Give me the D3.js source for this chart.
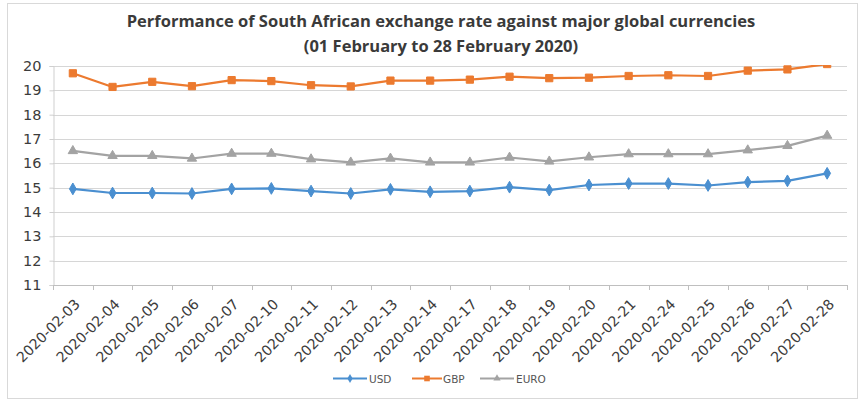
<!DOCTYPE html>
<html>
<head>
<meta charset="utf-8">
<script src="https://cdn.jsdelivr.net/npm/d3@7"></script>
<style>
  html, body { margin: 0; padding: 0; background: #fff; }
  svg { display: block; }
</style>
</head>
<body>
<svg id="chart" width="859" height="402"></svg>
<script>
const dates = ["2020-02-03","2020-02-04","2020-02-05","2020-02-06","2020-02-07","2020-02-10","2020-02-11","2020-02-12","2020-02-13","2020-02-14","2020-02-17","2020-02-18","2020-02-19","2020-02-20","2020-02-21","2020-02-24","2020-02-25","2020-02-26","2020-02-27","2020-02-28"];
const usd  = [14.95,14.78,14.78,14.76,14.95,14.97,14.86,14.76,14.93,14.83,14.86,15.02,14.90,15.11,15.17,15.17,15.09,15.23,15.28,15.59];
const gbp  = [19.70,19.14,19.35,19.17,19.42,19.38,19.21,19.16,19.40,19.40,19.44,19.56,19.50,19.52,19.59,19.62,19.59,19.81,19.86,20.08];
const euro = [16.51,16.31,16.31,16.20,16.40,16.40,16.17,16.04,16.20,16.04,16.04,16.24,16.08,16.25,16.38,16.38,16.38,16.54,16.72,17.14];
const yTicks = [11,12,13,14,15,16,17,18,19,20];
const titleLines = ["Performance of South African exchange rate against major global currencies", "(01 February to 28 February 2020)"];
const seriesNames = ["USD","GBP","EURO"];

const series = [
  {name: seriesNames[0], values: usd,  color: "#4a8fd0", symbol: d3.symbolDiamond, size: 40},
  {name: seriesNames[1], values: gbp,  color: "#ec7a2f", symbol: d3.symbolSquare,  size: 52},
  {name: seriesNames[2], values: euro, color: "#a3a3a3", symbol: d3.symbolTriangle, size: 38}
];

const svg = d3.select("#chart");
const L = 53, R = 847, T = 66, B = 285;

// frame
svg.append("rect").attr("x", 7.5).attr("y", 3.5).attr("width", 850).attr("height", 395)
  .attr("fill", "#fff").attr("stroke", "#d9d9d9").attr("stroke-width", 1);

const x = d3.scaleBand().domain(dates).range([L, R]);
const y = d3.scaleLinear().domain([11, 20]).range([B, T]);

// title
svg.append("g").selectAll("text").data(titleLines).join("text")
  .attr("x", 441).attr("y", (d, i) => 27 + i * 25)
  .attr("text-anchor", "middle")
  .attr("font-family", "'Open Sans', sans-serif")
  .attr("font-weight", "bold")
  .attr("font-size", "16.5px")
  .attr("fill", "#3a3a3a")
  .text(d => d);

// gridlines
svg.append("g").selectAll("line").data(yTicks.filter(t => t > 11)).join("line")
  .attr("x1", L).attr("x2", R)
  .attr("y1", d => Math.round(y(d)) + 0.5).attr("y2", d => Math.round(y(d)) + 0.5)
  .attr("stroke", "#d6d6d6").attr("stroke-width", 1);

// y axis
const yAxis = svg.append("g").attr("transform", `translate(${L + 0.5},0)`)
  .call(d3.axisLeft(y).tickValues(yTicks).tickSize(4).tickPadding(8).tickFormat(d3.format("d")));
yAxis.select(".domain").attr("stroke", "#cfcfcf");
yAxis.selectAll(".tick line").attr("stroke", "#cfcfcf");
yAxis.selectAll("text").attr("font-family", "'DejaVu Sans', sans-serif")
  .attr("font-size", "14.5px").attr("fill", "#3c3c3c");

// x axis line and ticks
const xg = svg.append("g");
xg.append("line").attr("x1", L).attr("x2", R).attr("y1", B + 0.5).attr("y2", B + 0.5)
  .attr("stroke", "#bfbfbf");
const boundaries = dates.map(d => x(d)).concat([x(dates[dates.length - 1]) + x.bandwidth()]);
xg.selectAll("line.tk").data(boundaries).join("line").attr("class", "tk")
  .attr("x1", d => Math.round(d) + 0.5).attr("x2", d => Math.round(d) + 0.5)
  .attr("y1", B).attr("y2", B + 5).attr("stroke", "#bfbfbf");
xg.selectAll("text").data(dates).join("text")
  .attr("transform", d => `translate(${x(d) + x.bandwidth() / 2 + 8},${B + 20}) rotate(-45)`)
  .attr("text-anchor", "end")
  .attr("font-family", "'DejaVu Sans', sans-serif")
  .attr("font-size", "14.2px")
  .attr("fill", "#3c3c3c")
  .text(d => d);

// clip
svg.append("clipPath").attr("id", "plotclip").append("rect")
  .attr("x", L).attr("y", T - 1).attr("width", R - L).attr("height", B - T + 6);

const plot = svg.append("g").attr("clip-path", "url(#plotclip)");
const line = d3.line().x((d, i) => x(dates[i]) + x.bandwidth() / 2).y(d => y(d));

series.forEach(s => {
  const g = plot.append("g");
  g.append("path").datum(s.values).attr("d", line)
    .attr("fill", "none").attr("stroke", s.color).attr("stroke-width", 2.2)
    .attr("stroke-linejoin", "round");
  g.selectAll("path.m").data(s.values).join("path").attr("class", "m")
    .attr("d", d3.symbol().type(s.symbol).size(s.size))
    .attr("transform", (d, i) => `translate(${x(dates[i]) + x.bandwidth() / 2},${y(d)})`)
    .attr("fill", s.color).attr("stroke", s.color).attr("stroke-width", 1);
});

// legend
const legendPos = [{lx: 333, tx: 369}, {lx: 412, tx: 443}, {lx: 480, tx: 516}];
const lg = svg.append("g");
series.forEach((s, i) => {
  const p = legendPos[i];
  const w = i === 1 ? 30 : 34;
  lg.append("line").attr("x1", p.lx).attr("x2", p.lx + w).attr("y1", 378.5).attr("y2", 378.5)
    .attr("stroke", s.color).attr("stroke-width", 2);
  lg.append("path").attr("d", d3.symbol().type(s.symbol).size(s.size * 0.6))
    .attr("transform", `translate(${p.lx + w / 2},378.5)`).attr("fill", s.color);
  lg.append("text").attr("x", p.tx).attr("y", 382.5)
    .attr("font-family", "'DejaVu Sans', sans-serif").attr("font-size", "10.5px")
    .attr("fill", "#555").text(s.name);
});
</script>
</body>
</html>
